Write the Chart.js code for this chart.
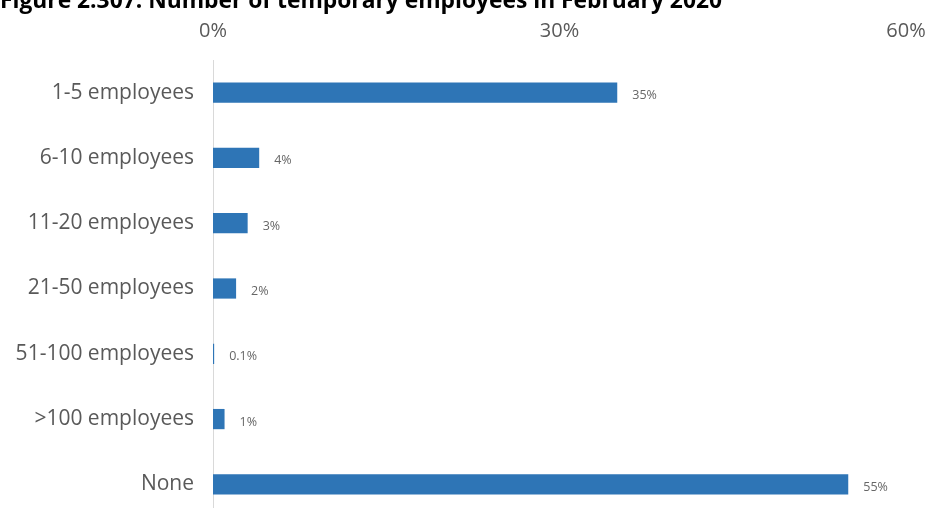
<!DOCTYPE html>
<html lang="en">
<head>
    <meta charset="UTF-8">
    <title>Temporary employees</title>
    <script src="https://cdn.jsdelivr.net/npm/chart.js"></script>
    <style>
        body {
            margin: 0;
            width: 925px;
            height: 508px;
            overflow: hidden;
            background: white;
            position: relative;
            font-family: "Open Sans", Arial, sans-serif;
        }
        .title {
            position: absolute;
            left: 0;
            top: -16px;
            font-family: "Open Sans", Arial, sans-serif;
            font-weight: bold;
            font-size: 22.8px;
            color: #000;
            white-space: nowrap;
            z-index: 2;
        }
        .chart-wrapper {
            position: absolute;
            left: 0;
            top: 0;
        }
    </style>
</head>
<body>
    <div class="title">Figure 2.307: Number of temporary employees in February 2020</div>
    <div class="chart-wrapper">
        <canvas id="tempChart" width="925" height="517"></canvas>
    </div>

    <script>
        const categories = ['1-5 employees', '6-10 employees', '11-20 employees', '21-50 employees',
                            '51-100 employees', '>100 employees', 'None'];
        const shares = [35, 4, 3, 2, 0.1, 1, 55];
        const shareLabels = ['35%', '4%', '3%', '2%', '0.1%', '1%', '55%'];

        const labelFont = '"Open Sans", Arial, sans-serif';

        // writes the percentage just right of each bar
        const valueLabels = {
            id: 'valueLabels',
            afterDatasetsDraw(chart) {
                const ctx = chart.ctx;
                const meta = chart.getDatasetMeta(0);
                ctx.save();
                ctx.font = '12.5px ' + labelFont;
                ctx.fillStyle = '#666666';
                ctx.textAlign = 'left';
                ctx.textBaseline = 'middle';
                meta.data.forEach((bar, i) => {
                    ctx.fillText(shareLabels[i], bar.x + 15, bar.y + 3);
                });
                ctx.restore();
            }
        };

        const ctx = document.getElementById('tempChart').getContext('2d');
        new Chart(ctx, {
            type: 'bar',
            data: {
                labels: categories,
                datasets: [{
                    data: shares,
                    backgroundColor: '#2E75B6',
                    borderWidth: 0,
                    barPercentage: 0.31,
                    categoryPercentage: 1.0
                }]
            },
            options: {
                indexAxis: 'y',
                responsive: false,
                animation: false,
                layout: { padding: 0 },
                plugins: {
                    legend: { display: false },
                    tooltip: { enabled: false }
                },
                scales: {
                    x: {
                        position: 'top',
                        min: 0,
                        max: 60,
                        afterFit: (scale) => {
                            scale.height = 60;
                            scale.paddingLeft = 0;
                            scale.paddingRight = 19;
                        },
                        grid: { display: false },
                        border: { display: false },
                        ticks: {
                            stepSize: 30,
                            padding: 9,
                            color: '#595959',
                            font: { family: labelFont, size: 20 },
                            callback: (v) => v + '%'
                        }
                    },
                    y: {
                        afterFit: (scale) => {
                            scale.width = 213;
                            scale.paddingTop = 0;
                            scale.paddingBottom = 0;
                        },
                        grid: { display: false },
                        border: { display: true, color: '#d9d9d9', width: 1 },
                        ticks: {
                            padding: 11,
                            color: '#595959',
                            font: { family: labelFont, size: 21 }
                        }
                    }
                }
            },
            plugins: [valueLabels]
        });
    </script>
</body>
</html>
